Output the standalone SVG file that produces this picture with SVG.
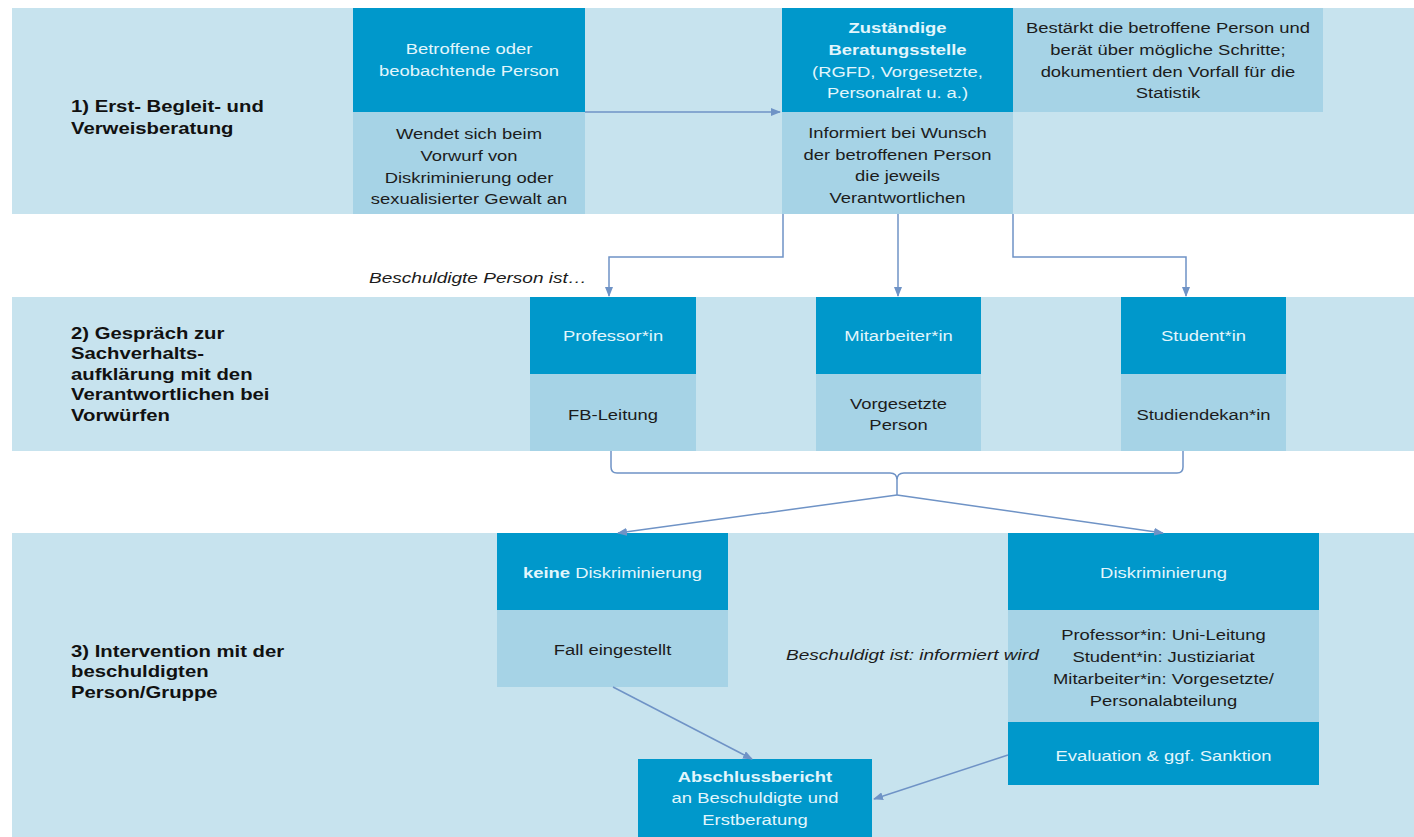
<svg xmlns="http://www.w3.org/2000/svg" width="1414" height="837" viewBox="0 0 1414 837">
<defs>
<marker id="ah" viewBox="0 0 10 8" refX="9" refY="4" markerWidth="10" markerHeight="8" markerUnits="userSpaceOnUse" orient="auto">
<path d="M0,0 L10,4 L0,8 z" fill="#6f93c6"/>
</marker>
<style>
.band{fill:#c7e3ee}
.dk{fill:#0098cb}
.lt{fill:#a6d3e6}
text{font-family:"Liberation Sans",Arial,sans-serif;font-size:14.5px}
.w{fill:#e2f6fc;text-anchor:middle}
.b{fill:#1c1c1c;text-anchor:middle}
.lbl{fill:#111;font-size:16px;font-weight:bold}
.it{fill:#1c1c1c;font-style:italic;font-size:15px}
.bold{font-weight:bold}
.con{fill:none;stroke:#6f93c6;stroke-width:1.5}
</style>
</defs>
<rect width="1414" height="837" fill="#ffffff"/>
<g id="bands">
<rect class="band" x="12" y="8" width="1402" height="206"/>
<rect class="band" x="12" y="297" width="1402" height="154"/>
<rect class="band" x="12" y="533" width="1402" height="304"/>
</g>
<g id="label1"><text class="lbl" transform="translate(71 0) scale(1.27 1)"><tspan x="0" y="112">1) Erst- Begleit- und</tspan><tspan x="0" y="134">Verweisberatung</tspan></text></g>
<g id="label2"><text class="lbl" transform="translate(71 0) scale(1.27 1)"><tspan x="0" y="339">2) Gespräch zur</tspan><tspan x="0" y="359.5">Sachverhalts-</tspan><tspan x="0" y="380">aufklärung mit den</tspan><tspan x="0" y="400.5">Verantwortlichen bei</tspan><tspan x="0" y="421">Vorwürfen</tspan></text></g>
<g id="label3"><text class="lbl" transform="translate(71 0) scale(1.27 1)"><tspan x="0" y="657">3) Intervention mit der</tspan><tspan x="0" y="677.5">beschuldigten</tspan><tspan x="0" y="698">Person/Gruppe</tspan></text></g>

<g id="betroffene">
<rect class="dk" x="353" y="8" width="232" height="104"/>
<rect class="lt" x="353" y="112" width="232" height="102"/>
<text class="w" transform="translate(469 0) scale(1.27 1)"><tspan x="0" y="54">Betroffene oder</tspan><tspan x="0" y="76">beobachtende Person</tspan></text>
<text class="b" transform="translate(469 0) scale(1.27 1)"><tspan x="0" y="139">Wendet sich beim</tspan><tspan x="0" y="161">Vorwurf von</tspan><tspan x="0" y="183">Diskriminierung oder</tspan><tspan x="0" y="204">sexualisierter Gewalt an</tspan></text>
</g>
<g id="beratungsstelle">
<rect class="dk" x="782" y="8" width="231" height="104"/>
<rect class="lt" x="782" y="112" width="231" height="102"/>
<text class="w" transform="translate(897.5 0) scale(1.27 1)"><tspan x="0" y="33" class="bold">Zuständige</tspan><tspan x="0" y="55" class="bold">Beratungsstelle</tspan><tspan x="0" y="77">(RGFD, Vorgesetzte,</tspan><tspan x="0" y="98">Personalrat u. a.)</tspan></text>
<text class="b" transform="translate(897.5 0) scale(1.27 1)"><tspan x="0" y="138">Informiert  bei Wunsch</tspan><tspan x="0" y="160">der betroffenen  Person</tspan><tspan x="0" y="181">die jeweils</tspan><tspan x="0" y="203">Verantwortlichen</tspan></text>
</g>
<g id="bestaerkt">
<rect class="lt" x="1013" y="8" width="310" height="104"/>
<text class="b" transform="translate(1168 0) scale(1.27 1)"><tspan x="0" y="33">Bestärkt die betroffene  Person und</tspan><tspan x="0" y="55">berät über mögliche Schritte;</tspan><tspan x="0" y="77">dokumentiert den Vorfall für die</tspan><tspan x="0" y="98">Statistik</tspan></text>
</g>
<g id="professor">
<rect class="dk" x="530" y="297" width="166" height="77"/>
<rect class="lt" x="530" y="374" width="166" height="77"/>
<text class="w" transform="translate(613 0) scale(1.27 1)"><tspan x="0" y="341">Professor*in</tspan></text>
<text class="b" transform="translate(613 0) scale(1.27 1)"><tspan x="0" y="420">FB-Leitung</tspan></text>
</g>
<g id="mitarbeiter">
<rect class="dk" x="816" y="297" width="165" height="77"/>
<rect class="lt" x="816" y="374" width="165" height="77"/>
<text class="w" transform="translate(898.5 0) scale(1.27 1)"><tspan x="0" y="341">Mitarbeiter*in</tspan></text>
<text class="b" transform="translate(898.5 0) scale(1.27 1)"><tspan x="0" y="409">Vorgesetzte</tspan><tspan x="0" y="430">Person</tspan></text>
</g>
<g id="student">
<rect class="dk" x="1121" y="297" width="165" height="77"/>
<rect class="lt" x="1121" y="374" width="165" height="77"/>
<text class="w" transform="translate(1203.5 0) scale(1.27 1)"><tspan x="0" y="341">Student*in</tspan></text>
<text class="b" transform="translate(1203.5 0) scale(1.27 1)"><tspan x="0" y="420">Studiendekan*in</tspan></text>
</g>
<g id="keine">
<rect class="dk" x="497" y="533" width="231" height="77"/>
<rect class="lt" x="497" y="610" width="231" height="77"/>
<text class="w" transform="translate(612.5 0) scale(1.27 1)"><tspan x="0" y="578"><tspan class="bold">keine</tspan> Diskriminierung</tspan></text>
<text class="b" transform="translate(612.5 0) scale(1.27 1)"><tspan x="0" y="655">Fall eingestellt</tspan></text>
</g>
<g id="diskriminierung">
<rect class="dk" x="1008" y="533" width="311" height="77"/>
<rect class="lt" x="1008" y="610" width="311" height="112"/>
<rect class="dk" x="1008" y="722" width="311" height="63"/>
<text class="w" transform="translate(1163.5 0) scale(1.27 1)"><tspan x="0" y="578">Diskriminierung</tspan></text>
<text class="b" transform="translate(1163.5 0) scale(1.27 1)"><tspan x="0" y="640">Professor*in:  Uni-Leitung</tspan><tspan x="0" y="662">Student*in: Justiziariat</tspan><tspan x="0" y="684">Mitarbeiter*in:  Vorgesetzte/</tspan><tspan x="0" y="706">Personalabteilung</tspan></text>
<text class="w" transform="translate(1163.5 0) scale(1.27 1)"><tspan x="0" y="761">Evaluation  &amp; ggf.  Sanktion</tspan></text>
</g>
<g id="abschluss">
<rect class="dk" x="638" y="759" width="234" height="78"/>
<text class="w" transform="translate(755 0) scale(1.27 1)"><tspan x="0" y="782" class="bold">Abschlussbericht</tspan><tspan x="0" y="803">an Beschuldigte  und</tspan><tspan x="0" y="825">Erstberatung</tspan></text>
</g>
<g id="notes">
<text class="it" transform="translate(369 0) scale(1.27 1)"><tspan x="0" y="283">Beschuldigte Person ist…</tspan></text>
<text class="it" transform="translate(786 0) scale(1.27 1)"><tspan x="0" y="660">Beschuldigt ist: informiert wird</tspan></text>
</g>
<g id="connectors">
<path class="con" d="M585 112 H780" marker-end="url(#ah)"/>
<path class="con" d="M783 214 V257 H609 V296" marker-end="url(#ah)"/>
<path class="con" d="M898 214 V296" marker-end="url(#ah)"/>
<path class="con" d="M1013 214 V257 H1186 V296" marker-end="url(#ah)"/>
<path class="con" d="M611 451 V467 Q611 473 617 473 H890 Q897 473 897 480 V495 M897 480 Q897 473 904 473 H1177 Q1183 473 1183 467 V451"/>
<path class="con" d="M897 495 L618 533" marker-end="url(#ah)"/>
<path class="con" d="M897 495 L1163 533" marker-end="url(#ah)"/>
<path class="con" d="M613 687 L752 759" marker-end="url(#ah)"/>
<path class="con" d="M1008 755 L874 799" marker-end="url(#ah)"/>
</g>
</svg>
